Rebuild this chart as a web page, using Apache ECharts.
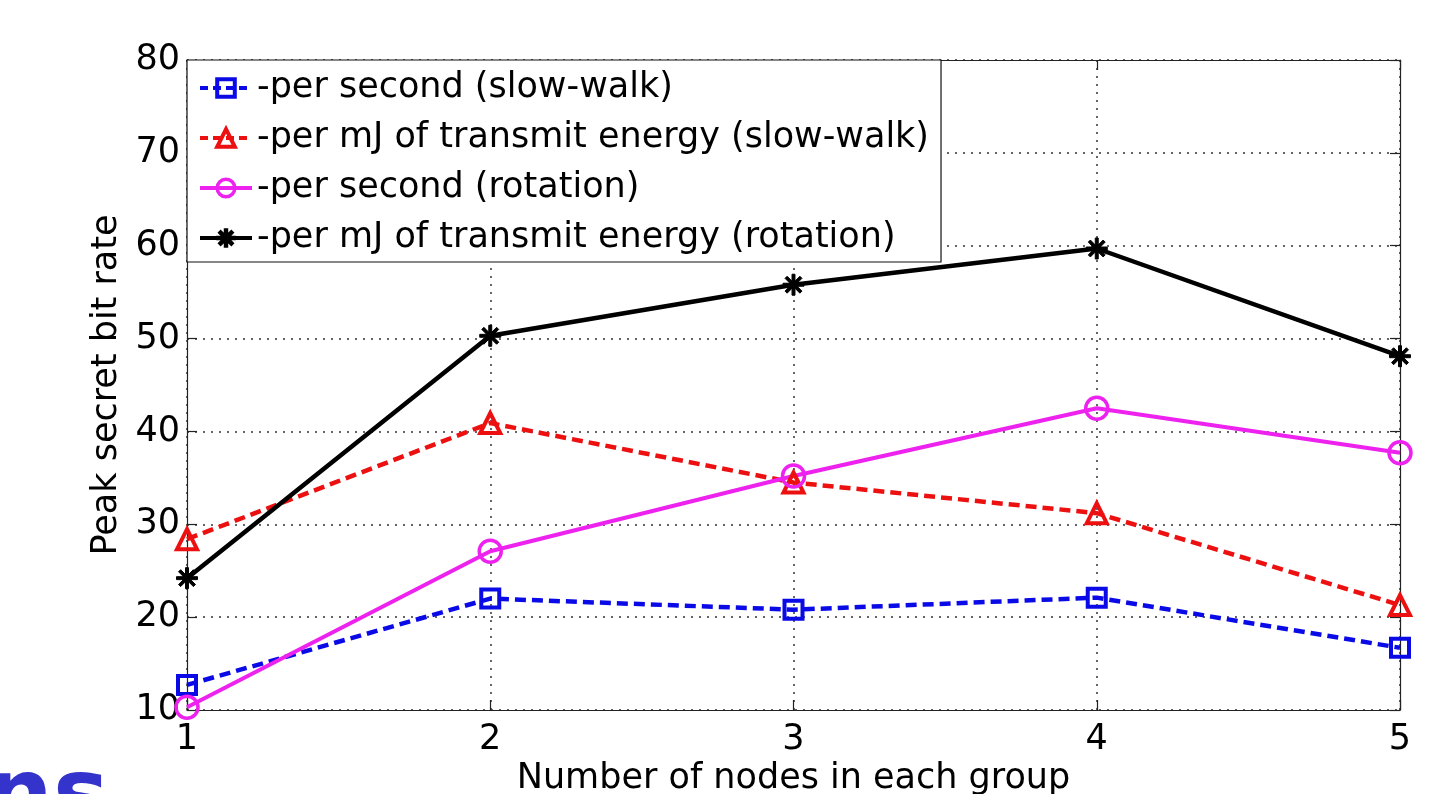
<!DOCTYPE html>
<html>
<head>
<meta charset="utf-8">
<title>Peak secret bit rate</title>
<script src="https://cdn.jsdelivr.net/npm/echarts@6/dist/echarts.min.js"></script>
<style>
  html, body { margin: 0; padding: 0; background: #fff; }
  #chart { width: 1440px; height: 794px; }
</style>
</head>
<body>
<div id="chart"></div>
<script>
// Number of nodes in each group (x values)
const nodes = [1, 2, 3, 4, 5];

// Peak secret bit rate for each configuration
const perSecondSlowWalk = [12.7, 22.0, 20.8, 22.1, 16.7];
const perMJSlowWalk     = [28.4, 40.9, 34.5, 31.2, 21.3];
const perSecondRotation = [10.3, 27.1, 35.2, 42.5, 37.7];
const perMJRotation     = [24.2, 50.3, 55.8, 59.7, 48.1];

const seriesNames = [
  '-per second (slow-walk)',
  '-per mJ of transmit energy (slow-walk)',
  '-per second (rotation)',
  '-per mJ of transmit energy (rotation)'
];

const FONT = 'DejaVu Sans';
const BLUE = '#0a0ae6', RED = '#ec1010', MAGENTA = '#ee22ee', BLACK = '#000';

// eight-armed asterisk marker
const asterisk = 'path://M-1.4,-10 L1.4,-10 L1.4,10 L-1.4,10 Z ' +
  'M-10,-1.4 L10,-1.4 L10,1.4 L-10,1.4 Z ' +
  'M-6.08,-8.06 L8.06,6.08 L6.08,8.06 L-8.06,-6.08 Z ' +
  'M8.06,-6.08 L-6.08,8.06 L-8.06,6.08 L6.08,-8.06 Z';

function pairs(values) {
  return nodes.map((n, i) => [n, values[i]]);
}

const chart = echarts.init(document.getElementById('chart'), null, { renderer: 'canvas' });

const axisText = { color: '#000', fontFamily: FONT, fontSize: 35 };
const gridLine = { show: true, lineStyle: { color: '#333', width: 1.5, type: [2, 6] } };
const edge = { show: true, lineStyle: { color: '#222', width: 1.2 } };
const innerTick = { show: true, inside: true, length: 10, lineStyle: { color: '#222', width: 1.2 } };

chart.setOption({
  backgroundColor: '#fff',
  animation: false,
  grid: { left: 187, right: 40, top: 60, bottom: 84, containLabel: false, outerBoundsMode: 'none' },
  legend: {
    orient: 'vertical',
    left: 187,
    top: 60,
    backgroundColor: '#fff',
    borderColor: '#111',
    borderWidth: 1.2,
    borderRadius: 0,
    padding: [8, 12, 4, 11],
    itemWidth: 52,
    itemHeight: 22,
    itemGap: 10,
    textStyle: { color: '#000', fontFamily: FONT, fontSize: 35, lineHeight: 40 },
    data: [
      { name: seriesNames[0], lineStyle: { width: 4, type: [8, 5] }, itemStyle: { borderWidth: 4 } },
      { name: seriesNames[1], lineStyle: { width: 4, type: [8, 5] }, itemStyle: { borderWidth: 4 } },
      { name: seriesNames[2], lineStyle: { width: 4 }, itemStyle: { borderWidth: 3.5 } },
      { name: seriesNames[3], lineStyle: { width: 4 } }
    ]
  },
  xAxis: [{
    type: 'value', min: 1, max: 5, interval: 1,
    name: 'Number of nodes in each group',
    nameLocation: 'middle', nameGap: 43,
    nameTextStyle: axisText,
    axisLine: edge, axisTick: innerTick,
    axisLabel: Object.assign({ margin: 12 }, axisText),
    splitLine: gridLine
  }, {
    type: 'value', min: 1, max: 5, interval: 1, position: 'top',
    axisLine: edge, axisTick: innerTick,
    axisLabel: { show: false }, splitLine: { show: false }
  }],
  yAxis: [{
    type: 'value', min: 10, max: 80, interval: 10,
    name: 'Peak secret bit rate',
    nameLocation: 'middle', nameGap: 54, nameRotate: 90,
    nameTextStyle: axisText,
    axisLine: edge, axisTick: innerTick,
    axisLabel: Object.assign({ margin: 7 }, axisText),
    splitLine: gridLine
  }, {
    type: 'value', min: 10, max: 80, interval: 10, position: 'right',
    axisLine: edge, axisTick: innerTick,
    axisLabel: { show: false }, splitLine: { show: false }
  }],
  series: [{
    name: seriesNames[0], type: 'line', data: pairs(perSecondSlowWalk),
    symbol: 'rect', symbolSize: 18,
    lineStyle: { color: BLUE, width: 4.5, type: [11, 6] },
    itemStyle: { color: 'rgba(0,0,0,0)', borderColor: BLUE, borderWidth: 4 },
    z: 3
  }, {
    name: seriesNames[1], type: 'line', data: pairs(perMJSlowWalk),
    symbol: 'triangle', symbolSize: 20,
    lineStyle: { color: RED, width: 4.5, type: [11, 6] },
    itemStyle: { color: 'rgba(0,0,0,0)', borderColor: RED, borderWidth: 4 },
    z: 3
  }, {
    name: seriesNames[2], type: 'line', data: pairs(perSecondRotation),
    symbol: 'circle', symbolSize: 22,
    lineStyle: { color: MAGENTA, width: 4 },
    itemStyle: { color: 'rgba(0,0,0,0)', borderColor: MAGENTA, borderWidth: 3.5 },
    z: 3
  }, {
    name: seriesNames[3], type: 'line', data: pairs(perMJRotation),
    symbol: asterisk, symbolSize: 21,
    lineStyle: { color: BLACK, width: 4.5 },
    itemStyle: { color: BLACK, borderColor: BLACK, borderWidth: 1 },
    z: 3
  }],
  graphic: [{
    type: 'text',
    left: -14, top: 754,
    z: 10,
    style: {
      text: 'ns',
      fill: '#3434cc',
      font: 'bold 94px "DejaVu Sans"'
    }
  }]
});
</script>
</body>
</html>
